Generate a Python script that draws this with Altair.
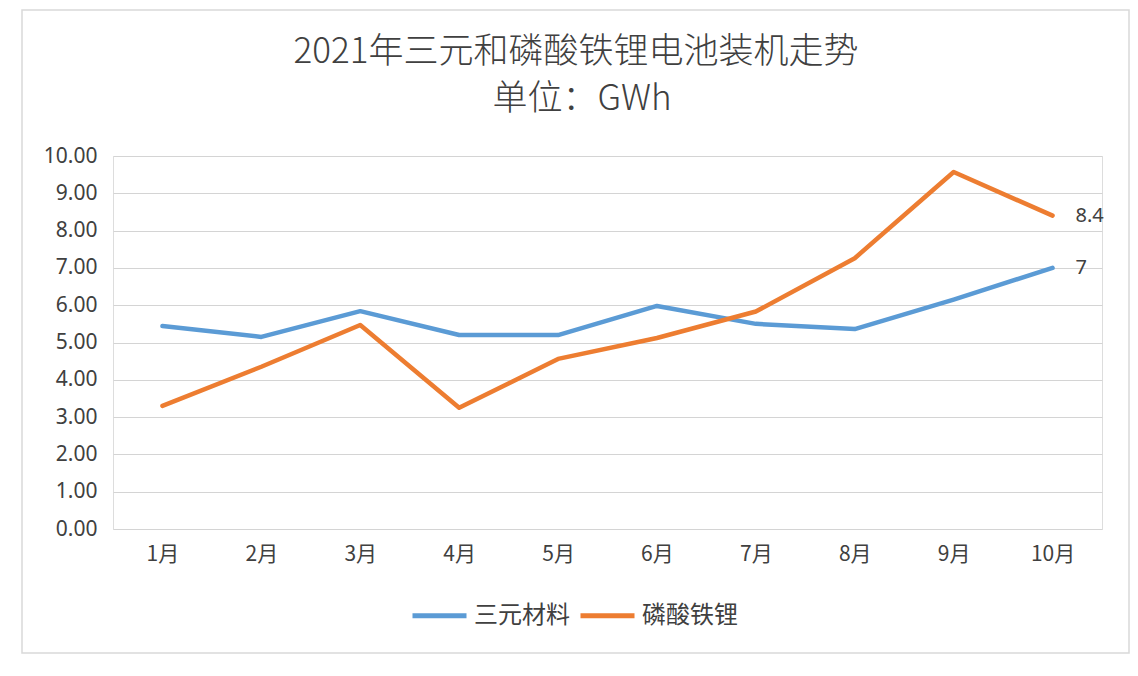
import altair as alt
import pandas as pd

months = ["1月", "2月", "3月", "4月", "5月", "6月", "7月", "8月", "9月", "10月"]
series_names = ["三元材料", "磷酸铁锂"]
sanyuan = [5.44, 5.15, 5.84, 5.20, 5.20, 5.98, 5.50, 5.36, 6.15, 7.0]
lfp = [3.30, 4.35, 5.47, 3.25, 4.56, 5.12, 5.83, 7.26, 9.57, 8.4]
colors = ["#5B9BD5", "#ED7D31"]
title_lines = ["2021年三元和磷酸铁锂电池装机走势", "单位：GWh"]

rows = []
for name, vals in zip(series_names, [sanyuan, lfp]):
    for m, v in zip(months, vals):
        rows.append({"month": m, "series": name, "value": v})
df = pd.DataFrame(rows)
last = df[df["month"] == months[-1]]
title_df = pd.DataFrame({"t": title_lines})

FONT = "Noto Sans CJK SC"
TXT = "#404040"

x_enc = alt.X("month:N", sort=months, title=None,
              scale=alt.Scale(padding=0.5),
              axis=alt.Axis(labelAngle=0, labelFontSize=21, labelColor=TXT,
                            labelFont=FONT, labelPadding=14, ticks=False,
                            domain=False, grid=False))
y_enc = alt.Y("value:Q", title=None,
              scale=alt.Scale(domain=[0, 10], nice=False),
              axis=alt.Axis(values=list(range(0, 11)), format=".2f",
                            labelFontSize=21, labelColor=TXT, labelFont="Noto Sans",
                            labelPadding=16, ticks=False, domain=False, labelOverlap=False,
                            gridColor="#d4d4d4", gridWidth=1))
color_enc = alt.Color("series:N", sort=series_names,
                      scale=alt.Scale(domain=series_names, range=colors),
                      legend=alt.Legend(title=None, orient="none", legendX=297, legendY=430,
                                        direction="horizontal", symbolType="stroke",
                                        symbolSize=2916, symbolStrokeWidth=5,
                                        labelFontSize=24, labelFont=FONT, labelColor=TXT,
                                        labelOffset=5, columnPadding=0))

frame = alt.Chart(pd.DataFrame({"a": [0]})).mark_rect(
    fillOpacity=0, stroke="#d9d9d9", strokeWidth=1.5
).encode(x=alt.value(-91), x2=alt.value(1016), y=alt.value(-146), y2=alt.value(497))

title1 = alt.Chart(title_df.iloc[[0]]).mark_text(
    align="center", baseline="middle", fontSize=35, font=FONT, fontWeight=300, color=TXT
).encode(x=alt.value(463), y=alt.value(-104), text="t:N")
title2 = alt.Chart(title_df.iloc[[1]]).mark_text(
    align="center", baseline="middle", fontSize=35, font=FONT, fontWeight=300, color=TXT
).encode(x=alt.value(469), y=alt.value(-57), text="t:N")

lines = alt.Chart(df).mark_line(strokeWidth=4.5, strokeCap="round", strokeJoin="round").encode(
    x=x_enc, y=y_enc, color=color_enc
)

labels = alt.Chart(last).mark_text(
    align="left", baseline="middle", dx=23, fontSize=20, font="Noto Sans", color=TXT
).encode(
    x=x_enc, y=y_enc,
    text=alt.Text("value:Q", format=".1~f"),
)

chart = alt.layer(frame, title1, title2, lines, labels).properties(
    width=989, height=373,
    padding={"left": 105, "top": 148, "right": 28, "bottom": 139},
    autosize=alt.AutoSizeParams(type="none"),
).configure_view(stroke=None).configure(background="white")

chart.save("out.html", embed_options={"renderer": "svg", "actions": False})
